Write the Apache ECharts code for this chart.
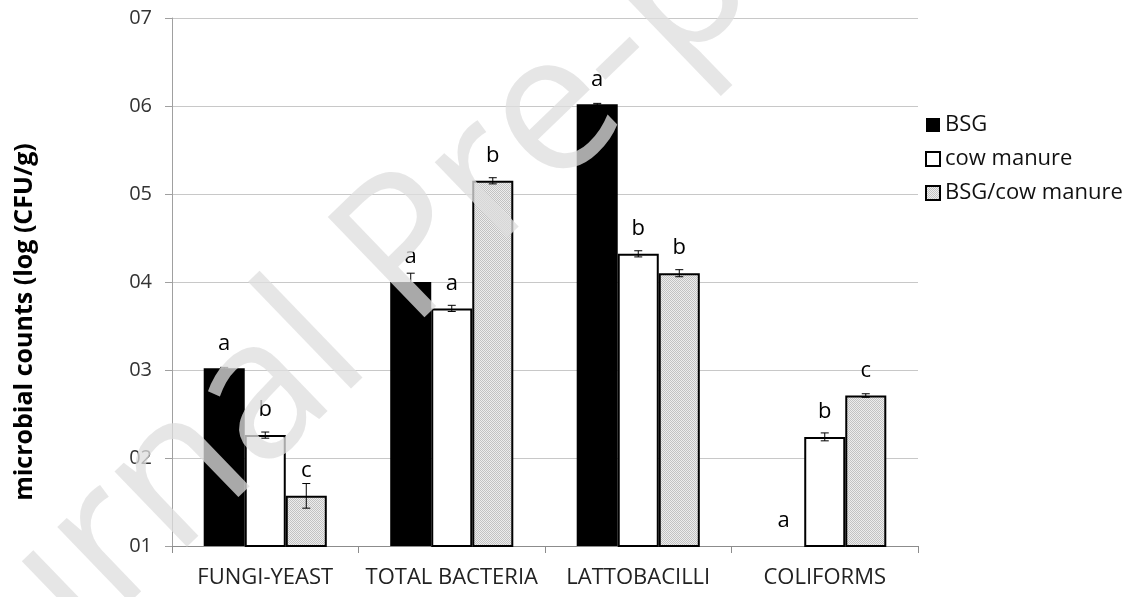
<!DOCTYPE html>
<html>
<head>
<meta charset="utf-8">
<script src="https://cdn.jsdelivr.net/npm/echarts@6/dist/echarts.min.js"></script>
<style>
html,body{margin:0;padding:0;background:#fff;}
#chart{width:1125px;height:597px;}
</style>
</head>
<body>
<div id="chart"></div>
<script>
const categories = ['FUNGI-YEAST', 'TOTAL BACTERIA', 'LATTOBACILLI', 'COLIFORMS'];
const seriesNames = ['BSG', 'cow manure', 'BSG/cow manure'];
const bsgValues = [3.02, 4.00, 6.02, 1.00];
const cowValues = [2.26, 3.70, 4.32, 2.24];
const mixValues = [1.57, 5.15, 4.10, 2.71];
const bsgErrors = [0.01, 0.10, 0.01, 0];
const cowErrors = [0.035, 0.035, 0.035, 0.045];
const mixErrors = [0.14, 0.035, 0.04, 0.02];
const bsgLetters = ['a', 'a', 'a', 'a'];
const cowLetters = ['b', 'a', 'b', 'b'];
const mixLetters = ['c', 'b', 'b', 'c'];
const yTickLabels = ['01', '02', '03', '04', '05', '06', '07'];
const yAxisTitle = 'microbial counts (log (CFU/g)';
const watermarkText = 'Journal Pre-proof';

const FONT = '"Open Sans", "Noto Sans", sans-serif';

// dotted fill pattern for the mixed series
const pc = document.createElement('canvas');
pc.width = 2; pc.height = 2;
const pctx = pc.getContext('2d');
pctx.fillStyle = '#ededed'; pctx.fillRect(0, 0, 2, 2);
pctx.fillStyle = '#c2c2c2'; pctx.fillRect(0, 0, 1, 1); pctx.fillRect(1, 1, 1, 1);
const dotted = { image: pc, repeat: 'repeat' };

const allValues = [bsgValues, cowValues, mixValues];
const allErrors = [bsgErrors, cowErrors, mixErrors];
const allLetters = [bsgLetters, cowLetters, mixLetters];
const styles = [
  { color: '#000000', borderColor: '#000000', borderWidth: 0 },
  { color: '#ffffff', borderColor: '#000000', borderWidth: 2 },
  { color: dotted, borderColor: '#000000', borderWidth: 2 }
];
const CAT_GAP = 0.34;

const barSeries = seriesNames.map((name, s) => ({
  name: name,
  type: 'bar',
  barGap: '0%',
  barCategoryGap: (CAT_GAP * 100) + '%',
  data: allValues[s],
  itemStyle: styles[s],
  label: {
    show: true,
    position: 'top',
    distance: 14,
    formatter: p => allLetters[s][p.dataIndex],
    fontFamily: FONT,
    fontSize: 22,
    color: '#000'
  },
  z: 2
}));

const errData = [];
allValues.forEach((vals, s) => vals.forEach((v, i) => errData.push([i, v, allErrors[s][i], s])));

const errorSeries = {
  type: 'custom',
  data: errData,
  z: 5,
  silent: true,
  encode: { x: 0, y: 1 },
  renderItem: function (params, api) {
    const cat = api.value(0), v = api.value(1), e = api.value(2), s = api.value(3);
    if (!e) return null;
    const c = api.coord([cat, v]);
    const band = api.size([1, 0])[0];
    const bw = band * (1 - CAT_GAP) / 3;
    const x = c[0] + (s - 1) * bw;
    const top = api.coord([cat, v + e])[1];
    const bot = api.coord([cat, v - e])[1];
    const half = 4;
    const st = { stroke: '#000', lineWidth: 1 };
    return {
      type: 'group',
      children: [
        { type: 'line', shape: { x1: x, y1: top, x2: x, y2: bot }, style: st },
        { type: 'line', shape: { x1: x - half, y1: top, x2: x + half, y2: top }, style: st },
        { type: 'line', shape: { x1: x - half, y1: bot, x2: x + half, y2: bot }, style: st }
      ]
    };
  }
};

const chart = echarts.init(document.getElementById('chart'), null, { renderer: 'canvas' });
chart.setOption({
  animation: false,
  backgroundColor: '#ffffff',
  grid: { left: 172, right: 207, top: 18, bottom: 51, containLabel: false },
  legend: {
    orient: 'vertical',
    left: 920,
    top: 109,
    itemWidth: 14,
    itemHeight: 14,
    itemGap: 12,
    icon: 'rect',
    data: seriesNames,
    textStyle: { fontFamily: FONT, fontSize: 22, color: '#111' }
  },
  xAxis: {
    type: 'category',
    data: categories,
    axisLine: { lineStyle: { color: '#8c8c8c', width: 1 } },
    axisTick: { show: true, length: 7, lineStyle: { color: '#8c8c8c' } },
    axisLabel: { interval: 0, fontFamily: FONT, fontSize: 22, color: '#222', margin: 21 }
  },
  yAxis: {
    type: 'value',
    min: 1,
    max: 7,
    interval: 1,
    axisLine: { show: true, lineStyle: { color: '#a0a0a0', width: 1 } },
    axisTick: { show: true, length: 7, lineStyle: { color: '#a0a0a0' } },
    splitLine: { lineStyle: { color: '#c8c8c8', width: 1 } },
    axisLabel: {
      fontFamily: FONT, fontSize: 20, color: '#333', margin: 20,
      formatter: v => yTickLabels[Math.round(v) - 1]
    }
  },
  series: barSeries.concat([errorSeries]),
  graphic: [
    {
      type: 'text',
      x: 25, y: 322,
      rotation: Math.PI / 2,
      style: {
        text: yAxisTitle,
        font: 'bold 25px ' + FONT,
        fill: '#000',
        align: 'center',
        verticalAlign: 'middle'
      }
    },
    {
      type: 'text',
      x: 434, y: 231,
      rotation: 44 * Math.PI / 180,
      z: 100,
      silent: true,
      style: {
        text: watermarkText,
        font: 'normal 195px ' + FONT,
        fill: 'rgba(222,222,222,0.76)',
        align: 'center',
        verticalAlign: 'middle'
      }
    }
  ]
});
</script>
</body>
</html>
